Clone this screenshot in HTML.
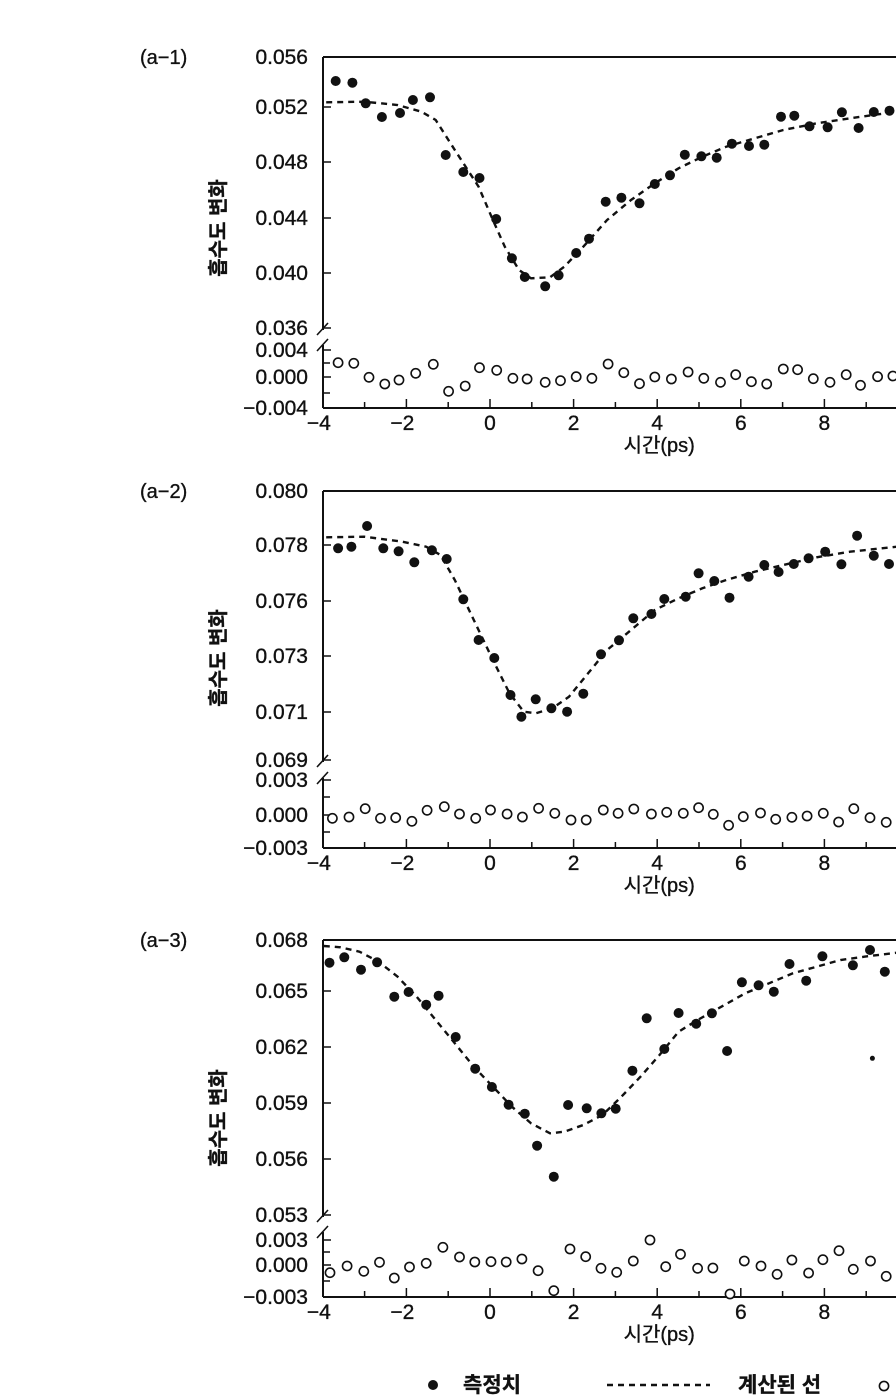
<!DOCTYPE html>
<html><head><meta charset="utf-8">
<style>
html,body{margin:0;padding:0;background:#fff;}
svg{display:block;}
text{font-family:"Liberation Sans","Noto Sans CJK KR",sans-serif;fill:#111;stroke:#111;stroke-width:0.35px;}
</style></head>
<body>
<svg id="s" width="896" height="1396" viewBox="0 0 896 1396" xmlns="http://www.w3.org/2000/svg"></svg>
<script>
const S=document.getElementById('s');
let out='';
const X0=490,XU=41.8;
function xt(t){return X0+XU*t;}
function zx(v){return 150+v/2.1;}
function txt(x,y,s,anchor,size,extra){out+=`<text x="${x}" y="${y}" font-size="${size||20}" text-anchor="${anchor||'end'}" ${extra||''}>${s}</text>`;}
function panel(o){
  const L=323;
  out+=`<line x1="${L}" y1="${o.top}" x2="896" y2="${o.top}" stroke="#111" stroke-width="2"/>`;
  out+=`<line x1="${L}" y1="${o.top}" x2="${L}" y2="${o.brk1}" stroke="#111" stroke-width="2"/>`;
  out+=`<line x1="${L}" y1="${o.brk2}" x2="${L}" y2="${o.bot}" stroke="#111" stroke-width="2"/>`;
  out+=`<line x1="${L-6}" y1="${o.brk1+5}" x2="${L+5}" y2="${o.brk1-7}" stroke="#111" stroke-width="1.6"/>`;
  out+=`<line x1="${L-6}" y1="${o.brk2+6}" x2="${L+5}" y2="${o.brk2-6}" stroke="#111" stroke-width="1.6"/>`;
  out+=`<line x1="${L}" y1="${o.bot}" x2="896" y2="${o.bot}" stroke="#111" stroke-width="2"/>`;
  for(let t=-3;t<=10;t++){const x=xt(t);out+=`<line x1="${x}" y1="${o.bot}" x2="${x}" y2="${o.bot-(t%2==0?9:6)}" stroke="#111" stroke-width="1.5"/>`;}
  [-4,-2,0,2,4,6,8].forEach(t=>txt(xt(t)+(t<0?-4:0),o.bot+22,(t<0?'−':'')+Math.abs(t),'middle',21));
  txt(xt(4)+2,o.bot+44,'시간(ps)','middle',20);
  o.ylab.forEach(([v,y])=>{txt(308,y+7,v,'end',21);out+=`<line x1="${L}" y1="${y}" x2="${L+8}" y2="${y}" stroke="#111" stroke-width="1.5"/>`;});
  o.rtick.forEach(y=>{out+=`<line x1="${L}" y1="${y}" x2="${L+7}" y2="${y}" stroke="#111" stroke-width="1.5"/>`;});
  txt(140,o.top+7,o.name,'start',20);
  out+=`<text x="0" y="0" font-size="20" font-weight="600" text-anchor="middle" transform="translate(225,${o.ymid}) rotate(-90)">흡수도 변화</text>`;
  let pts=o.curve.map(p=>`${zx(p[0]).toFixed(1)},${(p[1]).toFixed(1)}`).join(' ');
  out+=`<polyline points="${pts}" fill="none" stroke="#111" stroke-width="2.4" stroke-dasharray="6,5"/>`;
  o.dots.forEach(p=>{out+=`<circle cx="${zx(p[0]).toFixed(1)}" cy="${p[1].toFixed(1)}" r="${p[2]||5}" fill="#111"/>`;});
  o.open.forEach(p=>{out+=`<circle cx="${zx(p[0]).toFixed(1)}" cy="${p[1].toFixed(1)}" r="4.6" fill="#fff" stroke="#111" stroke-width="1.6"/>`;});
}
function cv(arr,org){return arr.map(p=>[p[0],org+p[1]/3,p[2]]);}
panel({name:'(a−1)',top:57,brk1:330,brk2:345,bot:408,ymid:228,
 ylab:[['0.056',57],['0.052',107],['0.048',162],['0.044',218],['0.040',273],['0.036',328],['0.004',350],['0.000',377],['−0.004',408]],
 rtick:[363,393],
 curve:cv([[370,187],[450,185],[520,195],[570,215],[600,240],[640,330],[690,440],[720,540],[745,620],[775,690],[800,715],[840,712],[870,680],[910,620],[960,540],[1010,480],[1060,430],[1110,385],[1160,350],[1210,320],[1270,295],[1330,270],[1400,250],[1470,235],[1568,215]],40),
 dots:cv([[390,123],[425,128],[453,190],[487,231],[525,219],[552,180],[588,172],[621,345],[658,396],[692,414],[727,537],[760,655],[787,711],[830,739],[858,706],[895,639],[922,596],[957,485],[990,473],[1028,490],[1060,432],[1092,406],[1123,344],[1158,349],[1190,353],[1222,311],[1258,318],[1290,314],[1325,230],[1353,227],[1385,259],[1423,262],[1453,217],[1488,264],[1520,216],[1553,212]],40),
 open:cv([[395,968],[428,970],[460,1012],[493,1032],[523,1020],[558,1000],[595,973],[627,1054],[662,1038],[692,983],[728,991],[762,1015],[792,1017],[830,1027],[862,1022],[895,1010],[928,1015],[962,972],[995,998],[1028,1031],[1060,1011],[1095,1017],[1130,996],[1163,1015],[1198,1027],[1230,1004],[1263,1025],[1295,1032],[1330,987],[1360,989],[1393,1016],[1428,1027],[1462,1004],[1492,1036],[1528,1010],[1560,1008]],40)
});
panel({name:'(a−2)',top:491,brk1:762,brk2:778,bot:848,ymid:658,
 ylab:[['0.080',491],['0.078',545],['0.076',601],['0.073',656],['0.071',712],['0.069',760],['0.003',780],['0.000',815],['−0.003',848]],
 rtick:[797,832],
 curve:cv([[370,112],[450,110],[530,125],[580,140],[610,165],[640,240],[680,360],[720,480],[755,580],[785,635],[810,640],[845,625],[880,590],[920,520],[960,450],[1010,390],[1060,330],[1110,295],[1160,265],[1210,240],[1270,215],[1330,195],[1400,172],[1470,155],[1568,140]],500),
 dots:cv([[395,145],[423,140],[456,78],[490,145],[522,154],[555,187],[592,151],[623,177],[658,298],[690,420],[723,474],[757,585],[780,650],[810,598],[843,625],[876,635],[910,581],[947,463],[985,421],[1015,355],[1053,342],[1080,297],[1125,290],[1152,220],[1185,243],[1217,293],[1257,230],[1290,195],[1320,216],[1352,192],[1383,175],[1418,155],[1452,193],[1485,107],[1520,167],[1552,192]],500),
 open:cv([[383,955],[418,951],[452,926],[484,955],[516,953],[550,964],[582,931],[618,920],[650,942],[684,955],[715,930],[750,942],[782,951],[816,925],[850,940],[884,960],[916,960],[952,930],[983,940],[1016,927],[1053,942],[1085,937],[1120,940],[1152,923],[1183,943],[1215,976],[1246,950],[1282,939],[1314,958],[1348,952],[1380,948],[1414,940],[1446,966],[1478,926],[1512,953],[1546,967]],500)
});
panel({name:'(a−3)',top:940,brk1:1217,brk2:1232,bot:1297,ymid:1118,
 ylab:[['0.068',940],['0.065',991],['0.062',1047],['0.059',1103],['0.056',1159],['0.053',1215],['0.003',1240],['0.000',1265],['−0.003',1297]],
 rtick:[1252,1281],
 curve:cv([[365,318],[400,322],[440,335],[480,365],[520,410],[560,470],[600,540],[640,610],[680,680],[720,740],[760,800],[800,850],[840,880]],840)
   .concat(cv([[870,275],[910,255],[950,225],[990,170],[1030,110],[1070,45]],1040))
   .concat(cv([[1110,575],[1150,540],[1200,500],[1250,460],[1300,430],[1350,400],[1400,380],[1450,360],[1500,350],[1568,338]],840)),
 dots:cv([[377,368],[408,352],[443,389],[477,367],[513,470],[543,456],[580,494],[606,467],[642,591],[683,686],[718,741],[753,794],[787,821],[1013,692],[1043,535],[1080,627],[1110,519],[1147,551],[1180,520],[1212,633],[1243,427],[1278,436],[1310,455],[1343,372],[1378,422],[1412,349],[1476,376],[1512,330],[1543,395]],840)
   .concat(cv([[813,317],[848,410],[878,195],[917,205],[948,220],[978,206],[1517,55,2.5]],1040)),
 open:cv([[378,698],[414,678],[449,694],[482,667],[513,714],[545,681],[580,670],[615,622],[650,651],[682,666],[716,665],[748,666],[781,657],[815,692],[848,752],[882,627],[915,650],[947,685],[980,697],[1015,663],[1050,600],[1083,680],[1114,643],[1150,685],[1182,684],[1218,762],[1248,663],[1283,678],[1317,703],[1348,660],[1383,699],[1413,659],[1447,632],[1477,688],[1513,663],[1546,709]],1040)
});
out+=`<circle cx="433" cy="1385" r="5" fill="#111"/>`;
txt(463,1392,'측정치','start',21,'font-weight="600"');
out+=`<line x1="607" y1="1385" x2="710" y2="1385" stroke="#111" stroke-width="2.4" stroke-dasharray="6,5"/>`;
txt(738,1392,'계산된 선','start',21,'font-weight="600"');
out+=`<circle cx="884" cy="1386" r="4.6" fill="#fff" stroke="#111" stroke-width="1.6"/>`;
S.innerHTML=out;
</script>
</body></html>
